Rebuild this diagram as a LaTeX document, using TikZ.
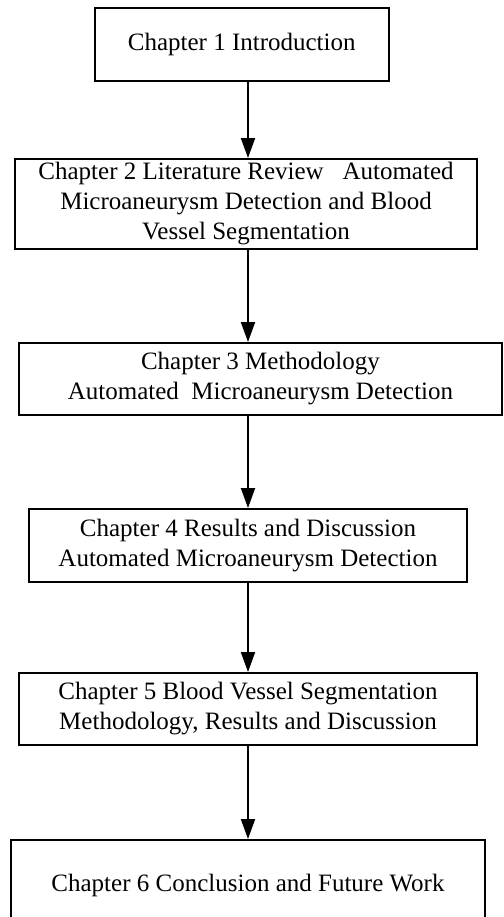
\documentclass[tikz,border=0pt]{standalone}
\usepackage{fontspec}
\setmainfont{Liberation Serif}
\usepackage{tikz}
\usetikzlibrary{positioning, arrows.meta, calc}
\tikzset{
	chapternode/.style={
			rectangle,
			draw=black,
			line width=1pt,
			fill=white,
			align=center,
			inner sep=0pt,
			font=\fontsize{12.5}{15}\selectfont
		},
	flowarrow/.style={
			line width=1pt,
			-{Triangle[length=10pt, width=7pt]}
		}
}
\begin{document}
\begin{tikzpicture}[x=0.5pt, y=-0.5pt]
\useasboundingbox (0,0) rectangle (504,917);
\node[chapternode, minimum width=147.25pt, minimum height=36.5pt] (ch1) at (241.75,44.5) {Chapter 1 Introduction};
\node[chapternode, minimum width=231pt, minimum height=45pt] (ch2) at (246,204) {Chapter 2 Literature Review\ \ \ Automated\\Microaneurysm Detection and Blood\\Vessel Segmentation};
\node[chapternode, minimum width=241.5pt, minimum height=36pt] (ch3) at (260.5,379) {Chapter 3 Methodology\\Automated\ \ Microaneurysm Detection};
\node[chapternode, minimum width=219pt, minimum height=36.5pt] (ch4) at (248,545.5) {Chapter 4 Results and Discussion\\Automated Microaneurysm Detection};
\node[chapternode, minimum width=229pt, minimum height=36pt] (ch5) at (248,709) {Chapter 5 Blood Vessel Segmentation\\Methodology, Results and Discussion};
\node[chapternode, minimum width=237pt, minimum height=45pt] (ch6) at (248,885) {Chapter 6 Conclusion and Future Work};
\coordinate (spine) at (248,0);

\draw[flowarrow] (ch1.south -| spine) -- (ch2.north -| spine);
\draw[flowarrow] (ch2.south -| spine) -- (ch3.north -| spine);
\draw[flowarrow] (ch3.south -| spine) -- (ch4.north -| spine);
\draw[flowarrow] (ch4.south -| spine) -- (ch5.north -| spine);
\draw[flowarrow] (ch5.south -| spine) -- (ch6.north -| spine);

\end{tikzpicture}
\end{document}
